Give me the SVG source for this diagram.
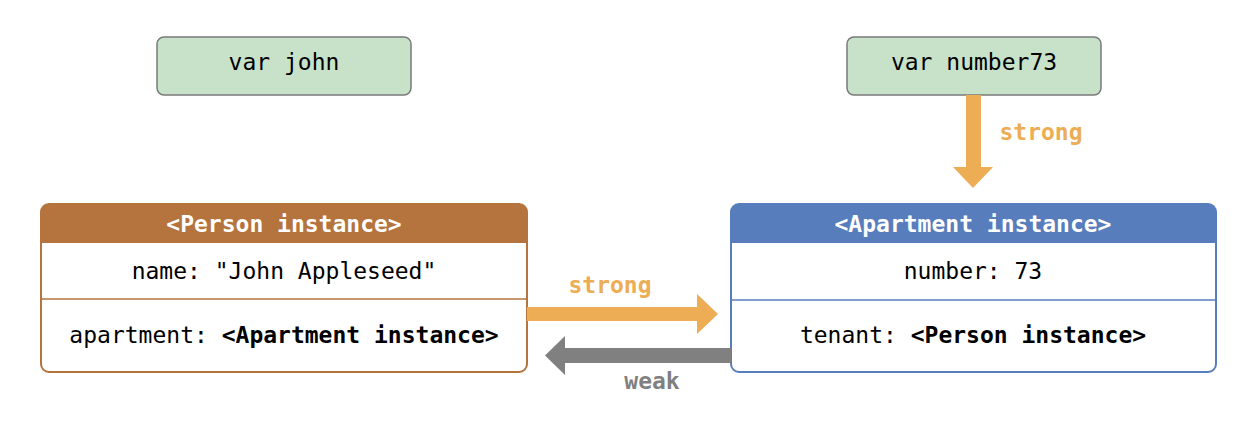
<svg xmlns="http://www.w3.org/2000/svg" width="1260" height="426" viewBox="0 0 1260 426">
<style>
text{font-family:"DejaVu Sans Mono","Liberation Mono",monospace;font-size:23px;text-anchor:middle;fill:#000}
.b{font-weight:bold}
.var{fill:#c8e2c9;stroke:#7a7a7a;stroke-width:1.5}
.hdr{fill:#fff;font-weight:bold}
.lbl{font-weight:bold;font-size:23px}
</style>
<rect width="1260" height="426" fill="#fff"/>
<g id="var-john">
<rect class="var" x="157" y="37" width="254" height="58" rx="7"/>
<text x="284" y="70">var john</text>
</g>
<g id="var-number73">
<rect class="var" x="847" y="37" width="254" height="58" rx="7"/>
<text x="974" y="70">var number73</text>
</g>
<g id="person">
<path d="M41,243 V212 a8,8 0 0 1 8,-8 H519 a8,8 0 0 1 8,8 V243 Z" fill="#b5733d"/>
<rect x="41" y="204" width="486" height="168" rx="8" fill="none" stroke="#b5733d" stroke-width="2"/>
<line x1="41" y1="299" x2="527" y2="299" stroke="#b5733d" stroke-width="1.5"/>
<text class="hdr" x="284" y="232">&lt;Person instance&gt;</text>
<text x="284" y="279">name: "John Appleseed"</text>
<text x="284" y="343">apartment: <tspan class="b">&lt;Apartment instance&gt;</tspan></text>
</g>
<g id="apartment">
<path d="M731,243 V212 a8,8 0 0 1 8,-8 H1208 a8,8 0 0 1 8,8 V243 Z" fill="#587dbc"/>
<rect x="731" y="204" width="485" height="168" rx="8" fill="none" stroke="#587dbc" stroke-width="2"/>
<line x1="731" y1="300" x2="1216" y2="300" stroke="#587dbc" stroke-width="1.5"/>
<text class="hdr" x="973" y="232">&lt;Apartment instance&gt;</text>
<text x="973" y="279">number: 73</text>
<text x="973" y="343">tenant: <tspan class="b">&lt;Person instance&gt;</tspan></text>
</g>
<g id="connectors">
<polygon points="966,95 981,95 981,167 993,167 973,188 953,167 966,167" fill="#ecad55"/>
<text class="lbl" x="1041" y="140" style="fill:#ecad55">strong</text>
<polygon points="527,307 697,307 697,294 718,314 697,334 697,321 527,321" fill="#ecad55"/>
<text class="lbl" x="610" y="293" style="fill:#ecad55">strong</text>
<polygon points="731,348 565,348 565,336 545,355.5 565,375 565,363 731,363" fill="#808080"/>
<text class="lbl" x="652" y="389" style="fill:#808080">weak</text>
</g>
</svg>
